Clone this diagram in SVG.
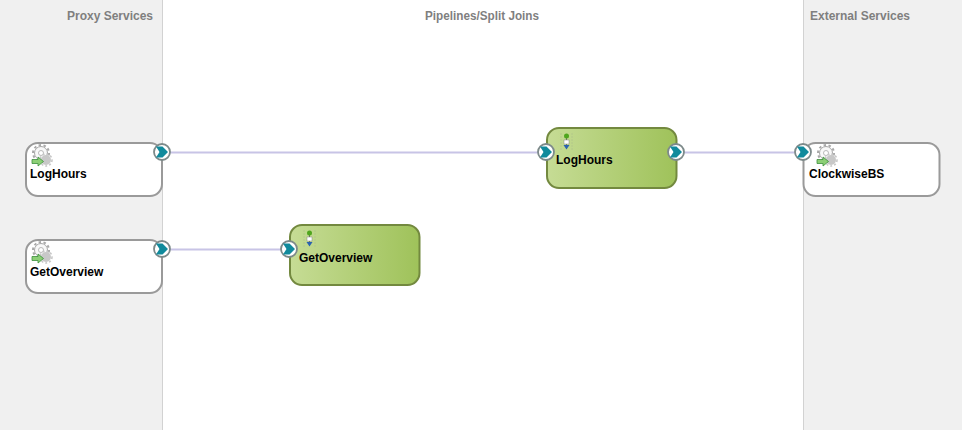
<svg xmlns="http://www.w3.org/2000/svg" xmlns:xlink="http://www.w3.org/1999/xlink" width="962" height="430" viewBox="0 0 962 430">
<style>
text{font-family:"Liberation Sans",Arial,sans-serif;font-weight:bold}
.head{font-size:12px;fill:#7f7f7f;text-anchor:middle}
.lbl{font-size:12px;fill:#000}
.svc{fill:#fff;stroke:#9a9a9a;stroke-width:2}
.pipe{fill:url(#g);stroke:#73893f;stroke-width:2}
.wire{stroke:#c8c4e6;stroke-width:2;fill:none}
.band{fill:#f0f0f0}
.div{stroke:#d2d2d2;stroke-width:1}
</style>
<defs>
<linearGradient id="g" x1="0" x2="1" y1="0" y2="0"><stop offset="0" stop-color="#c6dc95"/><stop offset="1" stop-color="#9fc25a"/></linearGradient>
<g id="port"><circle r="8" fill="#fff" stroke="#7d8a8a" stroke-width="1.8"/><path d="M-6-5.500H0.500L6 0 0.500 5.500H-6L-2.500 0Z" fill="#108a9c"/></g>
<g id="gear"><circle cx="0" cy="-3" r="6.500" fill="#f8f8f8" stroke="#a8a8a8" stroke-width="1"/><circle cx="0" cy="-3" r="8" fill="none" stroke="#a8a8a8" stroke-width="2" stroke-dasharray="2.500 2.500"/><circle cx="0" cy="-3" r="2.500" fill="#fff" stroke="#a8a8a8" stroke-width=".8"/><circle cx="5" cy="4" r="5" fill="#c8c8c8"/><circle cx="5" cy="4" r="6" fill="none" stroke="#c8c8c8" stroke-width="1.600" stroke-dasharray="2 2"/><path d="M-9 3.500H-3V1L2.500 5.500-3 10V7.500H-9Z" fill="#8ccf76" stroke="#3c8f3c" stroke-width=".8"/></g>
<g id="flow"><path d="M-5.500-7.500V8.500M5.500-7.500V8.500" stroke="#a9b98a" stroke-width="1" stroke-dasharray="1 2"/><path d="M0-4V8" stroke="#555" stroke-width=".8"/><circle cy="-5" r="2.500" fill="#4fa61e"/><rect x="-2.500" y="-1" width="5" height="4" fill="#fff" stroke="#888" stroke-width=".5"/><path d="M-3 4 0 8.500 3 4Z" fill="#2a62b0"/></g>
</defs>
<rect width="962" height="430" fill="#fff"/>
<rect class="band" width="162" height="430"/>
<rect class="band" x="803" width="159" height="430"/>
<path class="div" d="M162.500 0V430M803.500 0V430"/>
<text class="head" x="110" y="20">Proxy Services</text>
<text class="head" x="482" y="20" textLength="114" lengthAdjust="spacingAndGlyphs">Pipelines/Split Joins</text>
<text class="head" x="860" y="20">External Services</text>
<g id="connectors">
<path class="wire" d="M162 152.500H546"/>
<path class="wire" d="M676 152.500H803"/>
<path class="wire" d="M162 249.500H289"/>
</g>
<g id="proxy-loghours"><rect class="svc" x="26" y="143" width="136" height="53" rx="12"/><use xlink:href="#gear" href="#gear" x="41" y="156"/><text class="lbl" x="30" y="178">LogHours</text><use xlink:href="#port" href="#port" x="162" y="152"/></g>
<g id="proxy-getoverview"><rect class="svc" x="26" y="240" width="136" height="53" rx="12"/><use xlink:href="#gear" href="#gear" x="41" y="253"/><text class="lbl" x="30" y="276">GetOverview</text><use xlink:href="#port" href="#port" x="162" y="249"/></g>
<g id="pipeline-loghours"><rect class="pipe" x="547" y="128" width="129.500" height="60" rx="12"/><use xlink:href="#flow" href="#flow" x="566.500" y="141"/><text class="lbl" x="556" y="164">LogHours</text><use xlink:href="#port" href="#port" x="546" y="152"/><use xlink:href="#port" href="#port" x="676" y="152"/></g>
<g id="pipeline-getoverview"><rect class="pipe" x="290" y="225" width="129.500" height="60" rx="12"/><use xlink:href="#flow" href="#flow" x="309.500" y="238"/><text class="lbl" x="299" y="262">GetOverview</text><use xlink:href="#port" href="#port" x="289" y="249"/></g>
<g id="external-clockwisebs"><rect class="svc" x="803.500" y="143" width="136" height="53" rx="12"/><use xlink:href="#gear" href="#gear" x="826" y="156"/><text class="lbl" x="809" y="178">ClockwiseBS</text><use xlink:href="#port" href="#port" x="803" y="152"/></g>
</svg>
